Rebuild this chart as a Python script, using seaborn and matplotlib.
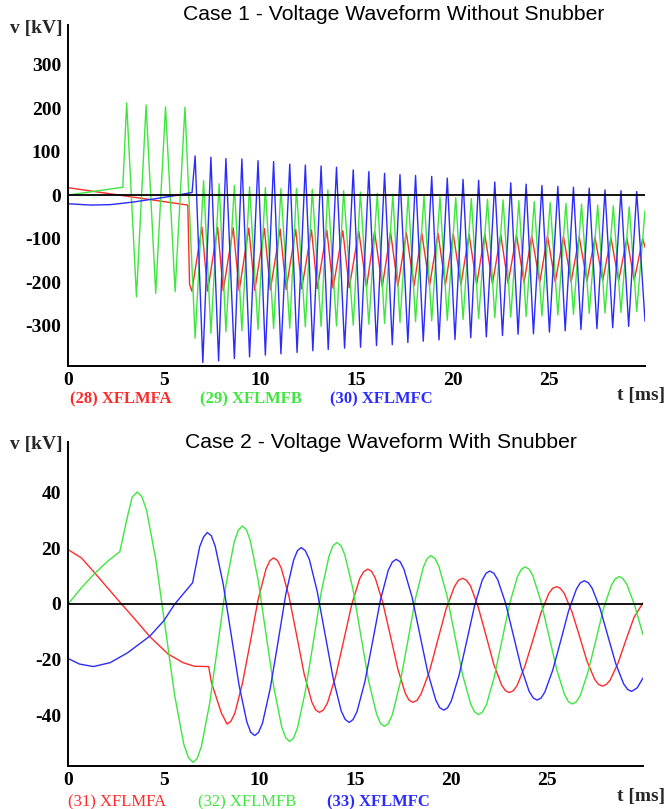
import matplotlib
matplotlib.use("Agg")
import matplotlib.pyplot as plt
import seaborn as sns

# ---- Case 1 (without snubber): times [ms] and voltages [kV]
case1_t_a = [0, 6.23, 6.32, 6.44, 6.96, 7.26, 7.78, 8.07, 8.59, 8.90, 9.40, 9.71, 10.21, 10.52,
             11.03, 11.34, 11.84, 12.15, 12.66, 12.96, 13.46, 13.78, 14.29, 14.62, 15.12, 15.52,
             15.94, 16.34, 16.77, 17.15, 17.59, 17.99, 18.39, 18.80, 19.24, 19.62, 20.03, 20.43,
             20.85, 21.25, 21.67, 22.07, 22.50, 22.88, 23.32, 23.71, 24.11, 24.53, 24.93, 25.33,
             25.76, 26.16, 26.58, 26.98, 27.40, 27.80, 28.23, 28.63, 29.06, 29.44, 29.88, 30.0]
case1_v_a = [17, -23, -205, -221, -73, -221, -74, -220, -75, -220, -76, -219, -77, -218, -78,
             -217, -79, -216, -80, -215, -81, -214, -82, -213, -83, -212, -84, -211, -85, -210,
             -86, -209, -87, -208, -88, -207, -89, -206, -90, -205, -90, -204, -91, -203, -92,
             -202, -93, -201, -94, -200, -95, -199, -96, -198, -97, -197, -98, -197, -99, -196,
             -100, -120]

case1_t_b = [0, 2.85, 3.05, 3.56, 4.06, 4.56, 5.07, 5.57, 6.08, 6.61, 7.05, 7.43, 7.86, 8.21,
             8.65, 9.04, 9.44, 9.88, 10.26, 10.69, 11.07, 11.53, 11.88, 12.34, 12.70, 13.16,
             13.51, 13.96, 14.33, 14.83, 15.20, 15.64, 16.08, 16.46, 16.89, 17.26, 17.69, 18.07,
             18.51, 18.91, 19.34, 19.72, 20.16, 20.54, 20.97, 21.35, 21.81, 22.19, 22.62, 23.02,
             23.44, 23.82, 24.24, 24.64, 25.07, 25.47, 25.89, 26.28, 26.70, 27.10, 27.54, 27.92,
             28.35, 28.75, 29.18, 29.57, 30.0]
case1_v_b = [0, 18, 212, -234, 207, -226, 203, -222, 202, -329, 33, -318, 26, -314, 22, -312,
             19, -309, 17, -307, 15, -306, 15, -303, 13, -302, 12, -301, 10, -299, 7, -297, 4,
             -295, 2, -293, 0, -291, -2, -289, -4, -288, -6, -286, -8, -284, -10, -282, -11,
             -281, -13, -279, -15, -278, -17, -276, -19, -274, -21, -272, -23, -271, -25, -270,
             -27, -268, -35]

case1_t_c = [0, 1.2, 2.2, 3.4, 4.6, 5.6, 6.45, 6.61, 7.01, 7.43, 7.83, 8.21, 8.65, 9.04, 9.44,
             9.88, 10.26, 10.69, 11.07, 11.53, 11.91, 12.34, 12.73, 13.16, 13.53, 13.96, 14.38,
             14.83, 15.21, 15.64, 16.04, 16.46, 16.86, 17.26, 17.67, 18.07, 18.47, 18.91, 19.29,
             19.72, 20.12, 20.54, 20.94, 21.35, 21.75, 22.19, 22.59, 23.02, 23.40, 23.82, 24.20,
             24.64, 25.03, 25.47, 25.85, 26.28, 26.67, 27.10, 27.50, 27.92, 28.32, 28.75, 29.15,
             29.57, 30.0]
case1_v_c = [-20, -23, -22, -16, -8, -1, 6, 90, -385, 87, -381, 84, -376, 83, -372, 79, -368,
             77, -365, 71, -362, 69, -358, 67, -355, 64, -352, 58, -350, 54, -346, 50, -344, 47,
             -339, 45, -336, 43, -333, 39, -332, 36, -328, 34, -326, 30, -323, 28, -320, 25,
             -319, 22, -315, 20, -312, 18, -309, 16, -307, 12, -305, 10, -302, 8, -290]

# ---- Case 2 (with snubber)
case2_t_a = [0, 0.7, 1.41, 2.1, 2.79, 3.5, 4.27, 5.22, 6.0, 6.6, 7.34, 7.48, 7.74, 8.0, 8.3,
             8.50, 8.71, 9.11, 9.52, 9.92, 10.33, 10.53, 10.73, 10.93, 11.13, 11.53, 11.93,
             12.32, 12.72, 12.92, 13.12, 13.33, 13.54, 13.96, 14.38, 14.8, 15.22, 15.43, 15.64,
             15.84, 16.03, 16.42, 16.82, 17.21, 17.6, 17.79, 17.99, 18.21, 18.42, 18.86, 19.29,
             19.72, 20.16, 20.37, 20.59, 20.79, 21.0, 21.4, 21.81, 22.21, 22.62, 22.82, 23.02,
             23.23, 23.43, 23.84, 24.26, 24.67, 25.08, 25.28, 25.49, 25.69, 25.89, 26.29, 26.69,
             27.08, 27.48, 27.68, 27.88, 28.09, 28.29, 28.7, 29.12, 29.53, 30.0]
case2_v_a = [19.5, 16.5, 11, 5.5, 0, -5.5, -11.7, -17.9, -21, -22.3, -22.4, -28, -33.5, -39,
             -43, -42.0, -39.0, -28.1, -13.3, 1.6, 12.5, 15.5, 16.5, 15.6, 12.8, 2.7, -11.2,
             -25.0, -35.1, -37.9, -38.8, -37.9, -35.4, -26.0, -13.2, -0.3, 9.1, 11.6, 12.5,
             11.7, 9.3, 0.6, -11.4, -23.3, -32.0, -34.4, -35.2, -34.5, -32.2, -24.1, -13.0,
             -1.9, 6.2, 8.5, 9.2, 8.5, 6.5, -1.0, -11.3, -21.5, -29.0, -31.0, -31.7, -31.1,
             -29.2, -22.2, -12.8, -3.3, 3.7, 5.6, 6.2, 5.6, 3.8, -2.7, -11.6, -20.5, -27.0,
             -28.8, -29.4, -28.8, -27.2, -21.1, -12.7, -4.8, 0.4]

case2_t_b = [0, 0.7, 1.4, 2.05, 2.7, 3.14, 3.35, 3.61, 3.85, 4.1, 4.58, 5.07, 5.56, 6.04, 6.29,
             6.53, 6.74, 6.96, 7.39, 7.82, 8.24, 8.67, 8.89, 9.10, 9.31, 9.51, 9.92, 10.33,
             10.74, 11.15, 11.36, 11.56, 11.77, 11.97, 12.38, 12.8, 13.21, 13.62, 13.82, 14.03,
             14.24, 14.44, 14.86, 15.27, 15.68, 16.1, 16.30, 16.51, 16.71, 16.92, 17.32, 17.73,
             18.13, 18.54, 18.74, 18.94, 19.15, 19.35, 19.77, 20.18, 20.59, 21.01, 21.21, 21.42,
             21.62, 21.83, 22.23, 22.64, 23.04, 23.45, 23.65, 23.85, 24.06, 24.26, 24.67, 25.09,
             25.5, 25.91, 26.11, 26.32, 26.52, 26.73, 27.13, 27.54, 27.94, 28.35, 28.55, 28.75,
             28.95, 29.16, 29.57, 30.0]
case2_v_b = [0, 5.8, 11, 15.2, 18.7, 32.4, 38.3, 40.1, 38.5, 33.6, 15.9, -8.3, -32.5, -50.2,
             -55.1, -56.7, -55.3, -51.0, -35.6, -14.4, 6.8, 22.2, 26.5, 27.9, 26.6, 22.7, 8.6,
             -10.7, -29.9, -44.0, -47.9, -49.2, -48.0, -44.4, -31.4, -13.6, 4.2, 17.2, 20.8,
             22.0, 20.9, 17.6, 5.6, -10.9, -27.4, -39.4, -42.7, -43.8, -42.8, -39.7, -28.5,
             -13.3, 2.0, 13.2, 16.3, 17.3, 16.3, 13.5, 3.1, -11.2, -25.4, -35.8, -38.6, -39.6,
             -38.7, -36.1, -26.4, -13.2, 0.1, 9.8, 12.4, 13.3, 12.5, 10.0, 1.0, -11.3, -23.5,
             -32.5, -35.0, -35.8, -35.0, -32.7, -24.4, -13.0, -1.6, 6.7, 9.0, 9.8, 9.1, 7.0,
             -0.6, -11]

case2_t_c = [0, 0.6, 1.32, 2.2, 3.1, 4.27, 5.0, 5.57, 6.5, 6.87, 7.07, 7.27, 7.48, 7.68, 8.09,
             8.51, 8.92, 9.33, 9.53, 9.74, 9.94, 10.15, 10.55, 10.96, 11.36, 11.77, 11.97,
             12.17, 12.38, 12.59, 13.0, 13.42, 13.84, 14.25, 14.46, 14.67, 14.87, 15.08, 15.49,
             15.9, 16.3, 16.71, 16.92, 17.12, 17.33, 17.53, 17.95, 18.36, 18.77, 19.19, 19.39,
             19.6, 19.80, 20.0, 20.4, 20.81, 21.21, 21.61, 21.81, 22.01, 22.22, 22.42, 22.83,
             23.24, 23.65, 24.06, 24.27, 24.47, 24.68, 24.88, 25.29, 25.71, 26.12, 26.53, 26.73,
             26.94, 27.15, 27.35, 27.76, 28.17, 28.58, 28.99, 29.2, 29.4, 29.7, 30.0]
case2_v_c = [-19.5, -21.5, -22.4, -21, -17.5, -11.5, -6, 0, 7.6, 20.5, 24.0, 25.6, 24.4, 20.7,
             7.4, -10.8, -28.9, -42.2, -45.9, -47.1, -46.0, -42.6, -30.3, -13.5, 3.4, 15.7,
             19.1, 20.2, 19.1, 16.0, 4.6, -11.1, -26.8, -38.2, -41.3, -42.4, -41.4, -38.5,
             -27.8, -13.2, 1.4, 12.1, 15.0, 16.0, 15.1, 12.4, 2.5, -11.0, -24.5, -34.4, -37.1,
             -38.0, -37.2, -34.7, -25.6, -13.1, -0.7, 8.5, 11.0, 11.8, 11.0, 8.7, 0.3, -11.3,
             -22.9, -31.3, -33.6, -34.4, -33.7, -31.5, -23.7, -13.1, -2.4, 5.4, 7.6, 8.3, 7.6,
             5.6, -1.6, -11.5, -21.4, -28.6, -30.6, -31.3, -30.0, -26.5]

x_ticks = [0, 5, 10, 15, 20, 25]
case1_yticks = [-300, -200, -100, 0, 100, 200, 300]
case2_yticks = [-40, -20, 0, 20, 40]
case1_labels = ["(28) XFLMFA", "(29) XFLMFB", "(30) XFLMFC"]
case2_labels = ["(31) XFLMFA", "(32) XFLMFB", "(33) XFLMFC"]

RED, GREEN, BLUE = "#ff2b2b", "#3ee63e", "#2b2bff"
W, H = 669, 809


def fx(px):
    return px / W


def fy(py):
    return 1 - py / H


def draw_panel(fig, rect, series, ylim, yticks):
    ax = fig.add_axes(rect)
    for t, v, color in series:
        sns.lineplot(x=t, y=v, color=color, lw=1.0, ax=ax, sort=False, estimator=None)
    ax.axhline(0, color="black", lw=1.3, zorder=5)
    ax.set_xlim(0, 30)
    ax.set_ylim(*ylim)
    ax.set_xticks(x_ticks)
    ax.set_yticks(yticks)
    ax.set_xlabel("")
    ax.set_ylabel("")
    for side in ["top", "right"]:
        ax.spines[side].set_visible(False)
    for side in ["left", "bottom"]:
        ax.spines[side].set_color("black")
        ax.spines[side].set_linewidth(1.4)
    ax.tick_params(axis="x", direction="in", length=3, width=1, pad=4, colors="black")
    ax.tick_params(axis="y", length=0, pad=5, colors="black")
    for lbl in ax.get_xticklabels() + ax.get_yticklabels():
        lbl.set_fontfamily("Liberation Serif")
        lbl.set_fontweight("bold")
        lbl.set_fontsize(14)
    return ax


sns.set_style("white")
plt.rcParams["font.family"] = ["Liberation Serif", "DejaVu Sans"]
plt.rcParams["axes.unicode_minus"] = False

fig = plt.figure(figsize=(W / 100, H / 100), dpi=100)

# top panel
draw_panel(fig, [fx(68), fy(366), fx(645) - fx(68), fy(25) - fy(366)],
           [(case1_t_a, case1_v_a, RED), (case1_t_b, case1_v_b, GREEN), (case1_t_c, case1_v_c, BLUE)],
           (-393, 391), case1_yticks)
# bottom panel
draw_panel(fig, [fx(68), fy(766), fx(643) - fx(68), fy(442) - fy(766)],
           [(case2_t_a, case2_v_a, RED), (case2_t_b, case2_v_b, GREEN), (case2_t_c, case2_v_c, BLUE)],
           (-58, 58), case2_yticks)

title_kw = dict(family="Liberation Sans", fontsize=15.2, ha="left", va="center", color="black")
fig.text(fx(183), fy(15), "Case 1 - Voltage Waveform Without Snubber", **title_kw)
fig.text(fx(185), fy(442), "Case 2 - Voltage Waveform With Snubber", **title_kw)

axis_kw = dict(family="Liberation Serif", fontweight="bold", fontsize=14, va="center")
fig.text(fx(63), fy(28), "v [kV]", ha="right", **axis_kw)
fig.text(fx(63), fy(445), "v [kV]", ha="right", **axis_kw)
fig.text(fx(665), fy(396), "t [ms]", ha="right", **axis_kw)
fig.text(fx(665), fy(797), "t [ms]", ha="right", **axis_kw)

for x, lbl, col in zip([70, 200, 330], case1_labels, [RED, GREEN, BLUE]):
    fig.text(fx(x), fy(399), lbl, color=col, family="Liberation Serif",
             fontweight="bold", fontsize=12, ha="left", va="center")
for x, lbl, col, wt in zip([68, 198, 327], case2_labels, [RED, GREEN, BLUE],
                           ["normal", "normal", "bold"]):
    fig.text(fx(x), fy(802), lbl, color=col, family="Liberation Serif",
             fontweight=wt, fontsize=12, ha="left", va="center")

fig.savefig("out.png", dpi=100)
